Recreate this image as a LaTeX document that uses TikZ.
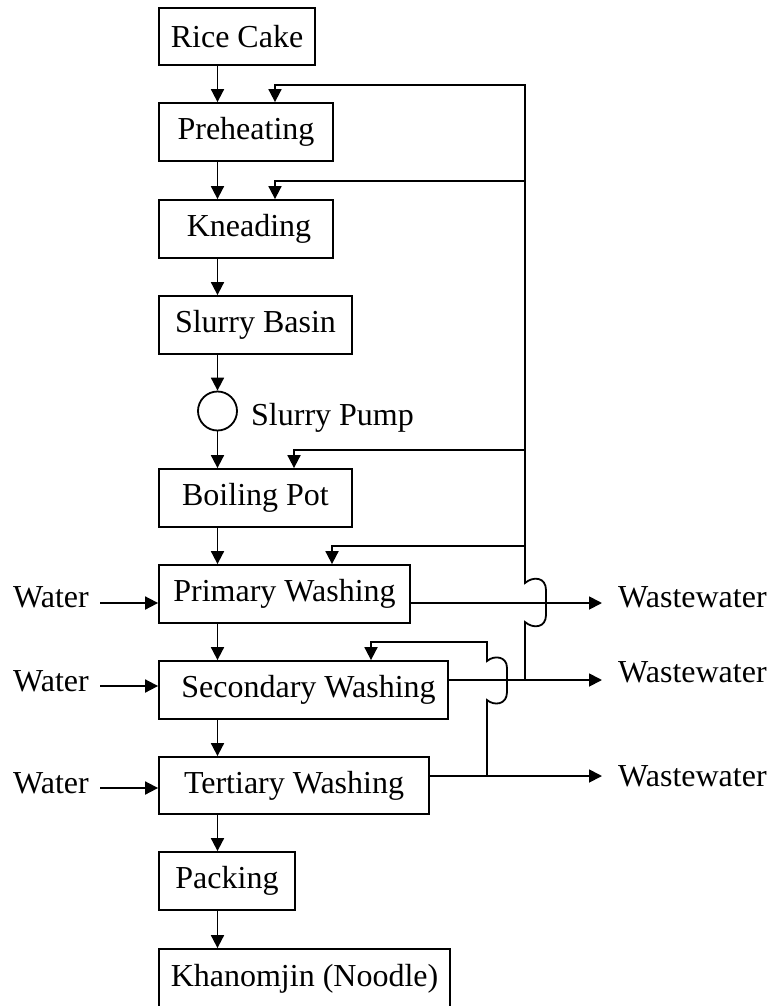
\documentclass[tikz,border=0pt]{standalone}
\usepackage{fontspec}
\setmainfont{Liberation Serif}
\usetikzlibrary{arrows.meta}
\begin{document}
\begin{tikzpicture}[x=1pt,y=-1pt,
  box/.style={draw, line width=1.8pt, font=\fontsize{32}{38}\selectfont, inner sep=0pt, minimum height=58pt},
  lbl/.style={font=\fontsize{32}{38}\selectfont, inner sep=0pt},
  flow/.style={line width=1.8pt},
  arr/.style={flow, -{Triangle[length=13pt,width=13pt]}}]
\useasboundingbox (0,0) rectangle (772,1006);
\clip (0,0) rectangle (772,1006);
% boxes
\node[box, minimum width=156pt, minimum height=57pt] (rc) at (237,36.5) {Rice Cake};
\node[box, minimum width=174pt] (ph) at (246,132) {Preheating};
\node[box, minimum width=174pt] (kn) at (246,229) {\hspace*{6pt}Kneading};
\node[box, minimum width=193pt] (sb) at (255.5,325) {Slurry Basin};
\node[draw, circle, line width=1.8pt, minimum size=39pt, inner sep=0pt] (pump) at (217.5,411) {};
\node[lbl, anchor=base west] (pl) at (251,425) {Slurry Pump};
\node[box, minimum width=193pt] (bp) at (255.5,498) {Boiling Pot};
\node[box, minimum width=251pt] (pw) at (284.5,594) {Primary Washing};
\node[box, minimum width=289pt] (sw) at (303.5,690) {\hspace*{10pt}Secondary Washing};
\node[box, minimum width=270pt, minimum height=57pt] (tw) at (294,785.5) {Tertiary Washing};
\node[box, minimum width=136pt] (pk) at (227,881) {Packing};
\node[box, minimum width=291pt, minimum height=59pt] (kh) at (304.5,978.5) {Khanomjin (Noodle)};
% main flow
\foreach \a/\b in {rc/ph, ph/kn, kn/sb, sb/pump, pump/bp, bp/pw, pw/sw, sw/tw, tw/pk, pk/kh}
  \draw[arr] (\a.south -| pump.center) -- (\b.north -| pump.center);
% water inputs
\node[lbl, anchor=base west] (w1) at (13,607) {Water};
\node[lbl, anchor=base west] (w2) at (13,691) {Water};
\node[lbl, anchor=base west] (w3) at (13,793) {Water};
\coordinate (ws1) at (100,603);
\coordinate (ws2) at (100,686);
\coordinate (ws3) at (100,788);
\draw[arr] (ws1) -- (ws1 -| pw.west);
\draw[arr] (ws2) -- (ws2 -| sw.west);
\draw[arr] (ws3) -- (ws3 -| tw.west);
% wastewater outputs
\coordinate (x1) at (602,603);
\coordinate (x2) at (602,680);
\coordinate (x3) at (602,776);
\draw[arr] (x1 -| pw.east) -- (x1);
\draw[arr] (x2 -| sw.east) -- (x2);
\draw[arr] (x3 -| tw.east) -- (x3);
\node[lbl, anchor=base west] (ww1) at (618,607) {Wastewater};
\node[lbl, anchor=base west] (ww2) at (618,682) {Wastewater};
\node[lbl, anchor=base west] (ww3) at (618,786) {Wastewater};
% recirculation from secondary wastewater
\coordinate (t0) at (275,0);
\coordinate (t2) at (294,0);
\coordinate (t3) at (332,0);
\coordinate (t4) at (371,0);
\coordinate (j0) at (525,85);
\coordinate (j1) at (525,181);
\coordinate (j2) at (525,450);
\coordinate (j3) at (525,546);
\coordinate (jb) at (525,680);
\draw[arr] (jb) -- (525,622) .. controls (533,629) and (546,628) .. (546,615) -- (546,590)
  .. controls (546,577) and (533,576) .. (525,583) -- (j0) -| (ph.north -| t0);
\draw[arr] (j1) -| (kn.north -| t0);
\draw[arr] (j2) -| (bp.north -| t2);
\draw[arr] (j3) -| (pw.north -| t3);
% recirculation from tertiary wastewater
\coordinate (k0) at (487,642);
\coordinate (kb) at (487,776);
\draw[arr] (kb) -- (487,700) .. controls (494,706) and (507,705) .. (507,692) -- (507,668)
  .. controls (507,656) and (494,655) .. (487,661) -- (k0) -| (sw.north -| t4);
\end{tikzpicture}
\end{document}
